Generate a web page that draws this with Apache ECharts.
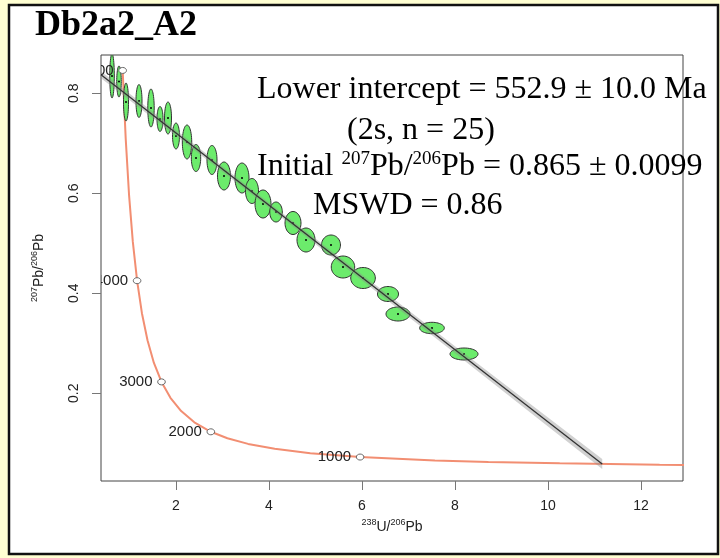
<!DOCTYPE html>
<html>
<head>
<meta charset="utf-8">
<script src="https://cdn.jsdelivr.net/npm/echarts@6/dist/echarts.min.js"></script>
<style>
html,body{margin:0;padding:0;background:#FFFFD2;}
#chart{width:720px;height:558px;}
</style>
</head>
<body>
<div id="chart"></div>
<script>
// concordia curve (238U/206Pb, 207Pb/206Pb)
var concX = [13.831,12.399,10.252,8.718,7.568,5.959,4.888,4.123,3.550,3.105,2.749,2.394,2.111,1.880,1.688,1.525,1.387,1.267,1.163,1.071,0.990,0.918,0.853];
var concY = [0.0560,0.0572,0.0599,0.0628,0.0658,0.0725,0.0802,0.0889,0.0988,0.1101,0.1230,0.1419,0.1644,0.1910,0.2228,0.2607,0.3060,0.3602,0.4252,0.5032,0.5970,0.7098,0.8457];
// age markers on the concordia
var ageLabels = ['1000','2000','3000','4000','5000'];
var ageX = [5.959,2.749,1.688,1.163,0.853];
var ageY = [0.0725,0.1230,0.2228,0.4252,0.8457];
// error ellipses: centre and half axes
var ellX  = [0.624,0.774,0.925,1.204,1.462,1.656,1.828,2.000,2.237,2.430,2.774,3.032,3.419,3.634,3.871,4.151,4.516,4.796,5.333,5.591,6.022,6.559,6.774,7.505,8.194];
var ellY  = [0.8346,0.8236,0.7826,0.7846,0.7706,0.7486,0.7506,0.7146,0.7026,0.6706,0.6666,0.6346,0.6306,0.6046,0.5786,0.5626,0.5406,0.5066,0.4966,0.4526,0.4306,0.3986,0.3586,0.3306,0.2786];
var ellSx = [0.049,0.049,0.054,0.065,0.069,0.065,0.075,0.075,0.101,0.101,0.108,0.140,0.151,0.140,0.172,0.135,0.172,0.194,0.204,0.252,0.265,0.226,0.258,0.265,0.301];
var ellSy = [0.044,0.031,0.038,0.033,0.038,0.025,0.032,0.026,0.034,0.027,0.029,0.028,0.030,0.025,0.028,0.020,0.023,0.024,0.020,0.022,0.021,0.015,0.014,0.0114,0.012];
// isochron and its envelope
var isoX = [0.387, 11.166];
var isoY = [0.837, 0.0586];
var bandX  = [0.387, 2, 4, 6, 8, 10, 11.166];
var bandHi = [0.844, 0.7266, 0.5811, 0.4377, 0.2942, 0.1518, 0.0686];
var bandLo = [0.830, 0.7146, 0.5711, 0.4257, 0.2802, 0.1338, 0.0486];
var xTicks = [2, 4, 6, 8, 10, 12];
var yTicks = [0.2, 0.4, 0.6, 0.8];

var sans = 'Liberation Sans';
var serif = 'Liberation Serif';

var chart = echarts.init(document.getElementById('chart'));

var option = {
  backgroundColor: '#FFFFD2',
  animation: false,
  grid: {left: 101, right: 37, top: 55, bottom: 77, show: true, borderColor: '#444', borderWidth: 1},
  graphic: [
    {type: 'rect', z: -10, shape: {x: 9, y: 5, width: 709, height: 549}, style: {fill: '#fff', stroke: '#111', lineWidth: 2.5}},
    {type: 'text', x: 35, y: 26, style: {text: 'Db2a2_A2', font: 'bold 36px ' + serif, fill: '#000', align: 'left', verticalAlign: 'middle', textAlign: 'left', textVerticalAlign: 'middle'}},
    {type: 'text', x: 257, y: 90, style: {text: 'Lower intercept = 552.9 \u00b1 10.0 Ma', font: '32px ' + serif, fill: '#000', align: 'left', verticalAlign: 'middle'}},
    {type: 'text', x: 347, y: 131, style: {text: '(2s, n = 25)', font: '32px ' + serif, fill: '#000', align: 'left', verticalAlign: 'middle'}},
    {type: 'text', x: 257, y: 167, style: {
      text: '{m|Initial }{s|207}{m|Pb/}{s|206}{m|Pb = 0.865 \u00b1 0.0099}',
      align: 'left', verticalAlign: 'middle',
      rich: {
        m: {fontSize: 32, fontFamily: serif, color: '#000', lineHeight: 34},
        s: {fontSize: 19, fontFamily: serif, color: '#000', lineHeight: 25, verticalAlign: 'top'}
      }
    }},
    {type: 'text', x: 313, y: 206, style: {text: 'MSWD = 0.86', font: '32px ' + serif, fill: '#000', align: 'left', verticalAlign: 'middle'}}
  ],
  xAxis: {
    type: 'value', min: 0.387, max: 12.903,
    splitLine: {show: false},
    axisLine: {show: false, onZero: false},
    axisTick: {show: true, length: 9, customValues: xTicks, lineStyle: {color: '#777'}},
    axisLabel: {customValues: xTicks, margin: 18, fontSize: 14, fontFamily: sans, color: '#222'},
    name: '{s|238}{m|U/}{s|206}{m|Pb}',
    nameLocation: 'middle', nameGap: 34,
    nameTextStyle: {
      rich: {
        m: {fontSize: 14, fontFamily: sans, color: '#222', lineHeight: 18},
        s: {fontSize: 9, fontFamily: sans, color: '#222', lineHeight: 10, verticalAlign: 'top'}
      }
    }
  },
  yAxis: {
    type: 'value', min: 0.0246, max: 0.8766,
    splitLine: {show: false},
    axisLine: {show: false, onZero: false},
    axisTick: {show: true, length: 9, customValues: yTicks, lineStyle: {color: '#777'}},
    axisLabel: {customValues: yTicks, rotate: 90, margin: 20, fontSize: 14, fontFamily: sans, color: '#222',
      formatter: function (v) { return v.toFixed(1); }},
    name: '{s|207}{m|Pb/}{s|206}{m|Pb}',
    nameLocation: 'middle', nameGap: 53, nameRotate: 90,
    nameTextStyle: {
      rich: {
        m: {fontSize: 14, fontFamily: sans, color: '#222', lineHeight: 18},
        s: {fontSize: 9, fontFamily: sans, color: '#222', lineHeight: 10, verticalAlign: 'top'}
      }
    }
  },
  series: [
    {
      name: 'concordia', type: 'line', symbol: 'none', clip: true, z: 2,
      data: concX.map(function (x, i) { return [x, concY[i]]; }),
      lineStyle: {color: '#F28E72', width: 2}
    },
    {
      name: 'ellipses', type: 'custom', clip: true, z: 3,
      data: ellX.map(function (x, i) { return [x, ellY[i], ellSx[i], ellSy[i]]; }),
      encode: {x: 0, y: 1},
      renderItem: function (params, api) {
        var c = api.coord([api.value(0), api.value(1)]);
        var s = api.size([api.value(2), api.value(3)]);
        var pts = [];
        for (var k = 0; k < 48; k++) {
          var a = k / 48 * Math.PI * 2;
          pts.push([c[0] + s[0] * Math.cos(a), c[1] + s[1] * Math.sin(a)]);
        }
        return {type: 'group', children: [
          {type: 'polygon', shape: {points: pts}, style: {fill: '#6CEB6C', stroke: '#333', lineWidth: 1}},
          {type: 'circle', shape: {cx: c[0], cy: c[1], r: 1}, style: {fill: '#000'}}
        ]};
      }
    },
    {
      name: 'envelope', type: 'custom', clip: true, z: 4,
      data: [[bandX[0], bandHi[0]]],
      renderItem: function (params, api) {
        var pts = [];
        for (var i = 0; i < bandX.length; i++) pts.push(api.coord([bandX[i], bandHi[i]]));
        for (var j = bandX.length - 1; j >= 0; j--) pts.push(api.coord([bandX[j], bandLo[j]]));
        return {type: 'polygon', shape: {points: pts}, style: {fill: 'rgba(140,140,140,0.4)'}};
      }
    },
    {
      name: 'isochron', type: 'line', symbol: 'none', clip: true, z: 5,
      data: isoX.map(function (x, i) { return [x, isoY[i]]; }),
      lineStyle: {color: '#333', width: 1.3}
    },
    {
      name: 'ages', type: 'custom', clip: true, z: 6,
      data: ageX.map(function (x, i) { return [x, ageY[i]]; }),
      encode: {x: 0, y: 1},
      renderItem: function (params, api) {
        var c = api.coord([api.value(0), api.value(1)]);
        return {type: 'group', children: [
          {type: 'text', x: c[0] - 9, y: c[1], style: {text: ageLabels[params.dataIndex], font: '15px ' + sans, fill: '#222',
            align: 'right', verticalAlign: 'middle', textAlign: 'right', textVerticalAlign: 'middle'}},
          {type: 'ellipse', shape: {cx: c[0], cy: c[1], rx: 3.8, ry: 3}, style: {fill: '#fff', stroke: '#666', lineWidth: 1}}
        ]};
      }
    }
  ]
};

chart.setOption(option);
</script>
</body>
</html>
